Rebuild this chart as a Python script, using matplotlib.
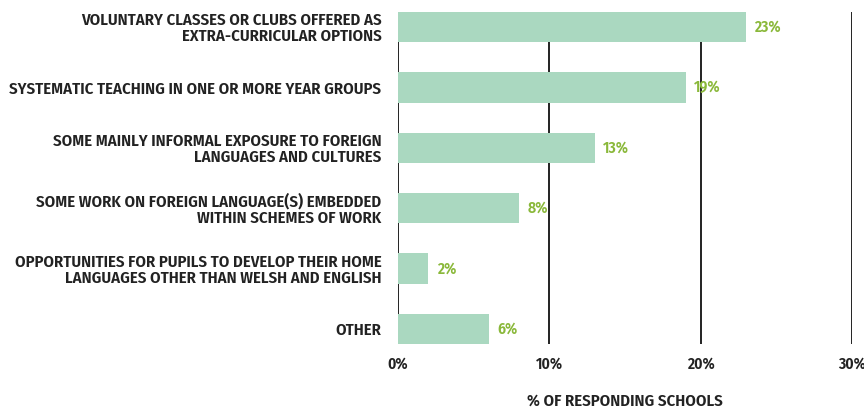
import matplotlib
matplotlib.use("Agg")
import matplotlib.pyplot as plt
from matplotlib import font_manager as fm

categories = [
    "VOLUNTARY CLASSES OR CLUBS OFFERED AS\nEXTRA-CURRICULAR OPTIONS",
    "SYSTEMATIC TEACHING IN ONE OR MORE YEAR GROUPS",
    "SOME MAINLY INFORMAL EXPOSURE TO FOREIGN\nLANGUAGES AND CULTURES",
    "SOME WORK ON FOREIGN LANGUAGE(S) EMBEDDED\nWITHIN SCHEMES OF WORK",
    "OPPORTUNITIES FOR PUPILS TO DEVELOP THEIR HOME\nLANGUAGES OTHER THAN WELSH AND ENGLISH",
    "OTHER",
]
values = [23, 19, 13, 8, 2, 6]
xticks = [0, 10, 20, 30]
xticklabels = ["0%", "10%", "20%", "30%"]

fam = ["Fira Sans Condensed", "DejaVu Sans"]
fp_lab = fm.FontProperties(family=fam, weight="semibold", size=12)
fp_num = fm.FontProperties(family=fam, weight="semibold", size=11.3)

fig = plt.figure(figsize=(8.64, 4.11), dpi=100)
ax = fig.add_axes([398/864, 1-344/411, (852-398)/864, (344-12)/411])

ypos = list(range(len(categories)))
ax.barh(ypos, values, height=0.5, color="#aad8c0", zorder=3)
for y, v in zip(ypos, values):
    ax.text(v + 0.55, y, f"{v}%", va="center", ha="left", color="#8ab83a",
            fontproperties=fp_num)

ax.set_xlim(0, 30)
ax.set_ylim(len(categories) - 0.75, -0.25)
ax.set_xticks(xticks)
ax.set_xticklabels(xticklabels, fontproperties=fp_num, color="#222222")
ax.set_yticks(ypos)
ax.set_yticklabels(categories, fontproperties=fp_lab, color="#222222",
                   linespacing=1.0)
ax.tick_params(axis="both", length=0)
ax.tick_params(axis="y", pad=12)
ax.tick_params(axis="x", pad=9)
for lab in ax.get_xticklabels():
    lab.set_clip_on(False)
ax.grid(axis="x", color="#222222", linewidth=1.4, zorder=1)
for s in ax.spines.values():
    s.set_visible(False)
ax.set_xlabel("% OF RESPONDING SCHOOLS", fontproperties=fp_lab, color="#222222")
ax.xaxis.set_label_coords((625-398)/(852-398), -(393-344)/(344-12))
fig.savefig("out.png", dpi=100)
